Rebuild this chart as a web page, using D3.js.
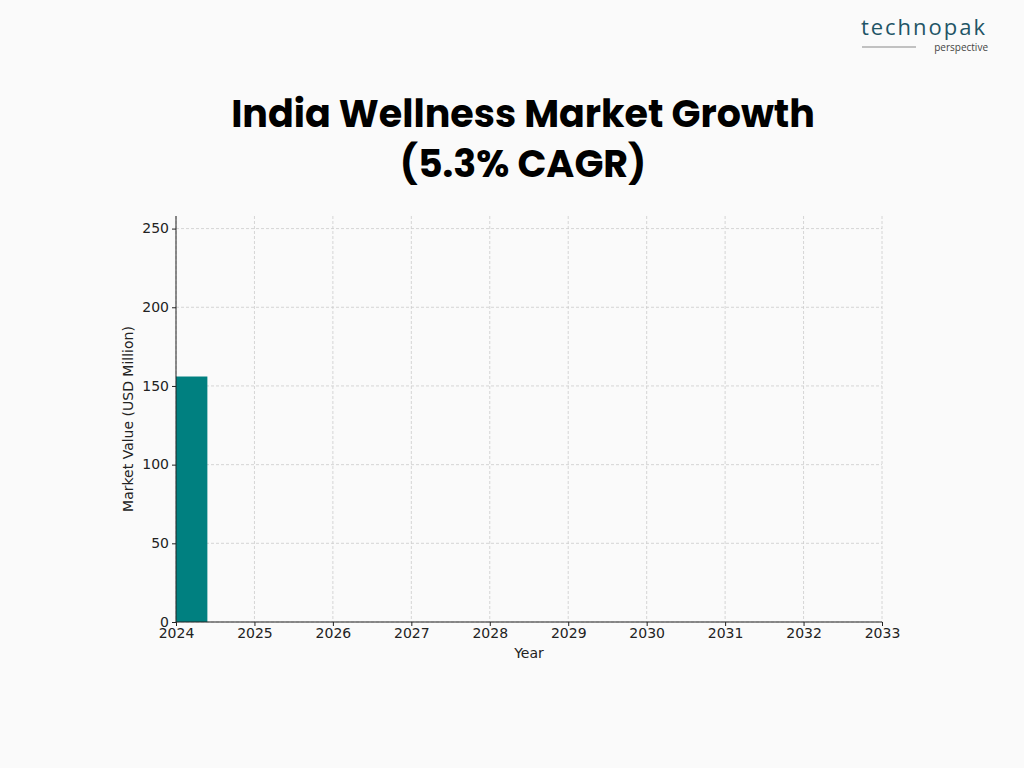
<!DOCTYPE html>
<html><head><meta charset="utf-8">
<script src="https://cdn.jsdelivr.net/npm/d3@7"></script>
<style>body{margin:0;background:#fafafa;}</style>
</head><body>
<svg id="c" width="1024" height="768"></svg>
<script>
const years = [2024];
const values = [156];
const xTicks = [2024,2025,2026,2027,2028,2029,2030,2031,2032,2033];
const yTicks = [0,50,100,150,200,250];
const titleLines = ["India Wellness Market Growth","(5.3% CAGR)"];

const svg = d3.select("#c");
svg.append("rect").attr("width",1024).attr("height",768).attr("fill","#fafafa");
const L=176,R=882,T=216,B=622;
const x = d3.scaleLinear().domain([2024,2033]).range([L,R]);
const y = d3.scaleLinear().domain([0,258]).range([B,T]);

// logo
svg.append("text").attr("x",924).attr("y",35).attr("text-anchor","middle")
 .attr("font-family","Open Sans").attr("font-size",22).attr("letter-spacing",2).attr("fill","#1f5566").text("technopak");
svg.append("line").attr("x1",862).attr("x2",916).attr("y1",47).attr("y2",47).attr("stroke","#888");
svg.append("text").attr("x",988).attr("y",51).attr("text-anchor","end")
 .attr("font-family","Open Sans").attr("font-size",10).attr("fill","#444").text("perspective");

// title
titleLines.forEach((t,i)=>svg.append("text").attr("x",523).attr("y",127+i*50).attr("text-anchor","middle")
 .attr("font-family","Poppins, Inter, sans-serif").attr("font-weight",700).attr("font-size",38).attr("fill","#000").text(t));

// grid
const g = svg.append("g");
xTicks.forEach(t=>g.append("line").attr("x1",x(t)).attr("x2",x(t)).attr("y1",T).attr("y2",B)
 .attr("stroke","#ccc").attr("stroke-dasharray","3,2").attr("stroke-width",0.8));
yTicks.forEach(t=>g.append("line").attr("x1",L).attr("x2",R).attr("y1",y(t)).attr("y2",y(t))
 .attr("stroke","#ccc").attr("stroke-dasharray","3,2").attr("stroke-width",0.8));

svg.append("clipPath").attr("id","clip").append("rect").attr("x",L).attr("y",T).attr("width",R-L).attr("height",B-T);
svg.append("g").attr("clip-path","url(#clip)").selectAll("rect").data(years).join("rect")
 .attr("x",d=>x(d-0.4)).attr("width",d=>x(d+0.4)-x(d-0.4))
 .attr("y",(d,i)=>y(values[i])).attr("height",(d,i)=>B-y(values[i])).attr("fill","#008080");

const xa = svg.append("g").attr("transform",`translate(0,${B})`)
 .call(d3.axisBottom(x).tickValues(xTicks).tickFormat(d3.format("d")).tickSize(4).tickPadding(2));
const ya = svg.append("g").attr("transform",`translate(${L},0)`)
 .call(d3.axisLeft(y).tickValues(yTicks).tickSize(4));
[xa,ya].forEach(a=>{a.selectAll("text").attr("font-family","DejaVu Sans").attr("font-size",14).attr("fill","#222");
 a.selectAll("line,path").attr("stroke","#222");});
ya.selectAll(".tick text").attr("dy","0.3em");
xa.select(".domain").attr("d",`M${L},0H${R}`);
ya.select(".domain").attr("d",`M0,${B}V${T}`);

svg.append("text").attr("x",529).attr("y",658).attr("text-anchor","middle")
 .attr("font-family","DejaVu Sans").attr("font-size",14).attr("fill","#222").text("Year");
svg.append("text").attr("transform","translate(133,419) rotate(-90)").attr("text-anchor","middle")
 .attr("font-family","DejaVu Sans").attr("font-size",14).attr("fill","#222").text("Market Value (USD Million)");
</script></body></html>
